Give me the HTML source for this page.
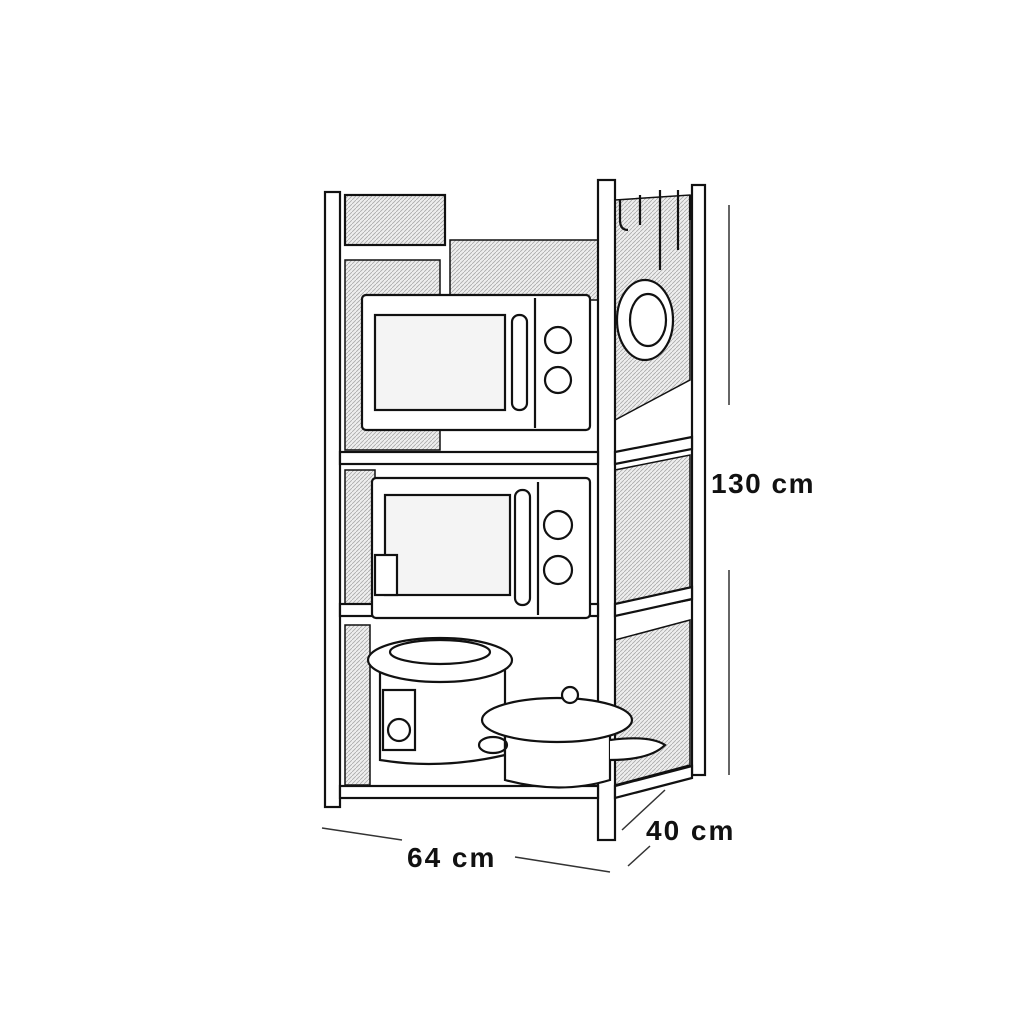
<!DOCTYPE html>
<html><head><style>
html,body{margin:0;padding:0;background:#fff;}
svg{display:block}
text{font-family:"Liberation Sans",sans-serif;font-weight:bold;fill:#111}
</style></head><body>
<svg width="1024" height="1024" viewBox="0 0 1024 1024" xmlns="http://www.w3.org/2000/svg">
<defs>
<pattern id="hatch" width="4" height="4" patternUnits="userSpaceOnUse">
<rect width="4" height="4" fill="#eee"/><path d="M0 4L4 0" stroke="#aaa" stroke-width="0.8"/>
</pattern>
</defs>
<g stroke="#111" stroke-width="2.2" fill="none">
<rect x="345" y="260" width="95" height="190" fill="url(#hatch)" stroke-width="1.5"/>
<rect x="450" y="240" width="148" height="60" fill="url(#hatch)" stroke-width="1.5"/>
<rect x="345" y="470" width="30" height="140" fill="url(#hatch)" stroke-width="1.5"/>
<rect x="345" y="625" width="25" height="160" fill="url(#hatch)" stroke-width="1.5"/>
<polygon points="615,470 690,455 690,600 615,615" fill="url(#hatch)" stroke-width="1.5"/>
<polygon points="615,640 690,620 690,765 615,785" fill="url(#hatch)" stroke-width="1.5"/>
<polygon points="615,200 690,195 690,380 615,420" fill="url(#hatch)" stroke-width="1.5"/>
<rect x="345" y="195" width="100" height="50" fill="url(#hatch)"/>
<rect x="325" y="192" width="15" height="615" fill="#fff"/>
<rect x="598" y="180" width="17" height="660" fill="#fff"/>
<rect x="692" y="185" width="13" height="590" fill="#fff"/>
<rect x="340" y="452" width="258" height="12" fill="#fff"/>
<rect x="340" y="604" width="258" height="12" fill="#fff"/>
<rect x="340" y="786" width="258" height="12" fill="#fff"/>
<polygon points="615,452 692,437 692,449 615,464" fill="#fff"/>
<polygon points="615,604 692,587 692,599 615,616" fill="#fff"/>
<polygon points="615,786 692,766 692,778 615,798" fill="#fff"/>
<rect x="362" y="295" width="228" height="135" rx="4" fill="#fff"/>
<rect x="375" y="315" width="130" height="95" fill="#f4f4f4"/>
<rect x="512" y="315" width="15" height="95" rx="7"/>
<line x1="535" y1="298" x2="535" y2="428"/>
<circle cx="558" cy="340" r="13"/><circle cx="558" cy="380" r="13"/>
<rect x="372" y="478" width="218" height="140" rx="4" fill="#fff"/>
<rect x="385" y="495" width="125" height="100" fill="#f4f4f4"/>
<rect x="515" y="490" width="15" height="115" rx="7"/>
<line x1="538" y1="482" x2="538" y2="615"/>
<circle cx="558" cy="525" r="14"/><circle cx="558" cy="570" r="14"/>
<rect x="375" y="555" width="22" height="40" fill="#fff"/>
<path d="M380 670 L380 760 Q440 770 505 755 L505 670" fill="#fff"/>
<ellipse cx="440" cy="660" rx="72" ry="22" fill="#fff"/>
<ellipse cx="440" cy="652" rx="50" ry="12"/>
<rect x="383" y="690" width="32" height="60" fill="#fff"/>
<circle cx="399" cy="730" r="11"/>
<path d="M505 735 L505 780 Q560 795 610 780 L610 735" fill="#fff"/>
<ellipse cx="557" cy="720" rx="75" ry="22" fill="#fff"/>
<circle cx="570" cy="695" r="8" fill="#fff"/>
<path d="M610 740 Q650 735 665 745 Q650 760 610 760" fill="#fff"/>
<ellipse cx="493" cy="745" rx="14" ry="8"/>
<path d="M620 200 v20 q0 10 8 10 M640 195 v30 M660 190 v80 M678 190 v60 M690 195 v25"/>
<ellipse cx="645" cy="320" rx="28" ry="40" fill="#fff"/>
<ellipse cx="648" cy="320" rx="18" ry="26"/>
</g>
<g stroke="#333" stroke-width="1.5">
<line x1="729" y1="205" x2="729" y2="405"/>
<line x1="729" y1="570" x2="729" y2="775"/>
<line x1="322" y1="828" x2="402" y2="840"/>
<line x1="515" y1="857" x2="610" y2="872"/>
<line x1="622" y1="830" x2="665" y2="790"/>
<line x1="628" y1="866" x2="650" y2="846"/>
</g>
<text x="711" y="493" font-size="28" letter-spacing="1.5">130 cm</text>
<text x="407" y="867" font-size="28" letter-spacing="2">64 cm</text>
<text x="646" y="840" font-size="28" letter-spacing="2">40 cm</text>
</svg>
</body></html>
